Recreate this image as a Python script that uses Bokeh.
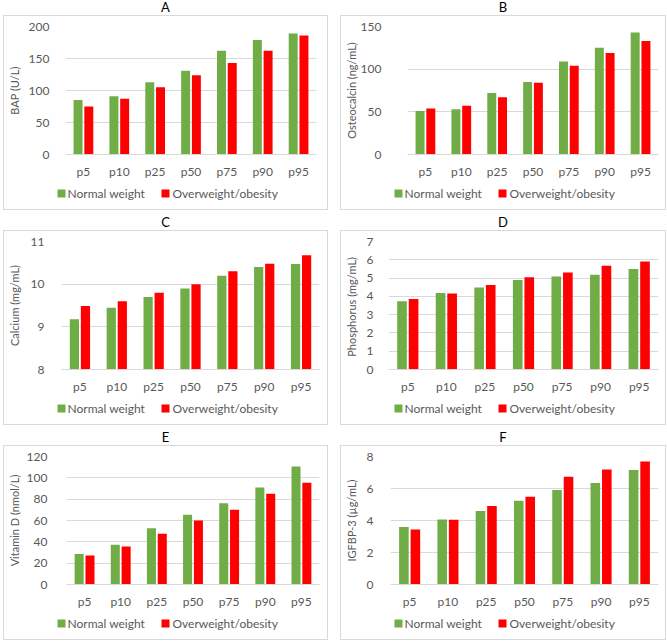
from bokeh.plotting import figure
from bokeh.layouts import column, row
from bokeh.models import (ColumnDataSource, FactorRange, Range1d, FixedTicker, Div)
from bokeh.core.properties import value
from bokeh.transform import dodge
from bokeh.embed import file_html
from bokeh.resources import INLINE

# Percentile categories shared by every panel
percentiles = ["p5", "p10", "p25", "p50", "p75", "p90", "p95"]
series_names = ["Normal weight", "Overweight/obesity"]

# A: bone alkaline phosphatase
bap_normal = [85, 91, 113, 131, 162, 179, 189]
bap_over = [75, 87, 105, 124, 143, 162, 186]
# B: osteocalcin
osteo_normal = [51, 53, 72, 85, 109, 125, 143]
osteo_over = [54, 57, 67, 84, 104, 119, 133]
# C: calcium
calcium_normal = [9.18, 9.45, 9.70, 9.90, 10.20, 10.40, 10.47]
calcium_over = [9.49, 9.60, 9.80, 10.00, 10.30, 10.48, 10.68]
# D: phosphorus
phos_normal = [3.73, 4.18, 4.49, 4.89, 5.09, 5.18, 5.49]
phos_over = [3.85, 4.15, 4.62, 5.04, 5.31, 5.67, 5.91]
# E: vitamin D
vitd_normal = [28.7, 37.2, 52.8, 65.3, 76.2, 91.0, 110.6]
vitd_over = [27.2, 35.6, 47.5, 60.0, 70.0, 85.0, 95.3]
# F: IGFBP-3
igfbp_normal = [3.60, 4.06, 4.60, 5.24, 5.90, 6.35, 7.16]
igfbp_over = [3.43, 4.05, 4.90, 5.49, 6.74, 7.18, 7.69]

# Axis titles and y ticks
y_labels = ["BAP (U/L)", "Osteocalcin (ng/mL)", "Calcium (mg/mL)",
            "Phosphorus  (mg/mL)", "Vitamin D (nmol/L)", "IGFBP-3 (\u00b5g/mL)"]
y_ticks_a = [0, 50, 100, 150, 200]
y_ticks_b = [0, 50, 100, 150]
y_ticks_c = [8, 9, 10, 11]
y_ticks_d = [0, 1, 2, 3, 4, 5, 6, 7]
y_ticks_e = [0, 20, 40, 60, 80, 100, 120]
y_ticks_f = [0, 2, 4, 6, 8]

GREEN = "#70AD47"
RED = "#FF0000"
GRID = "#D9D9D9"
TEXT = "#595959"
FONT = "Lato"

CHART_H = 165   # bars + axes
LEGEND_H = 28   # strip holding the legend under each chart

# legend layout inside the strip (pixels from the strip's left / bottom)
KEY_X = [57, 161]
LABEL_X = [63, 168]
KEY_Y = 16


def make_legend_strip(width):
    """A small axis-less figure carrying the two-entry key."""
    lp = figure(width=width, height=LEGEND_H, x_axis_type=None, y_axis_type=None,
                x_range=Range1d(0, width), y_range=Range1d(0, LEGEND_H),
                output_backend="svg", toolbar_location=None,
                min_border=0, outline_line_color=None, frame_align=False)
    keys = ColumnDataSource(dict(x=KEY_X, y=[KEY_Y, KEY_Y],
                                 color=[GREEN, RED]))
    lp.scatter(x="x", y="y", source=keys, marker="square", size=8,
               fill_color="color", line_color=None)
    labels = ColumnDataSource(dict(x=LABEL_X, y=[KEY_Y, KEY_Y],
                                   name=series_names))
    lp.text(x="x", y="y", text="name", source=labels,
            text_baseline="middle", text_align="left",
            text_font=value(FONT), text_font_size="12px", text_color=TEXT)
    return lp


def make_panel(letter, ylabel, normal, over, ticks, box_w,
               frame_left, frame_right, tick_standoff, label_standoff):
    y0, y1 = ticks[0], ticks[-1]
    src = ColumnDataSource(dict(cat=percentiles, normal=normal, over=over))
    p = figure(width=box_w - 2, height=CHART_H,
               x_range=FactorRange(*percentiles),
               y_range=Range1d(y0, y1),
               output_backend="svg", toolbar_location=None,
               min_border_left=frame_left, min_border_right=frame_right,
               min_border_top=10, min_border_bottom=27, frame_align=False)
    p.vbar(x=dodge("cat", -0.15, range=p.x_range), top="normal",
           bottom=y0, width=0.25, source=src,
           fill_color=GREEN, line_color=None)
    p.vbar(x=dodge("cat", 0.15, range=p.x_range), top="over",
           bottom=y0, width=0.25, source=src,
           fill_color=RED, line_color=None)

    p.outline_line_color = None
    p.xgrid.grid_line_color = None
    p.ygrid.grid_line_color = GRID
    p.ygrid.grid_line_width = 1

    yax = p.yaxis[0]
    yax.ticker = FixedTicker(ticks=ticks)
    yax.axis_line_color = None
    yax.major_tick_line_color = None
    yax.minor_tick_line_color = None
    yax.major_label_standoff = tick_standoff
    yax.major_label_text_font = FONT
    yax.major_label_text_font_size = "12px"
    yax.major_label_text_color = TEXT
    yax.axis_label = ylabel
    yax.axis_label_standoff = label_standoff
    yax.axis_label_text_font = FONT
    yax.axis_label_text_font_size = "11px"
    yax.axis_label_text_font_style = "normal"
    yax.axis_label_text_color = TEXT

    xax = p.xaxis[0]
    xax.axis_line_color = GRID
    xax.major_tick_line_color = None
    xax.minor_tick_line_color = None
    xax.major_label_standoff = 3
    xax.major_label_text_font = FONT
    xax.major_label_text_font_size = "12px"
    xax.major_label_text_color = TEXT

    boxed = column(p, make_legend_strip(box_w - 2), spacing=0, margin=0,
                   styles={"border": "1px solid #D9D9D9"})
    title = Div(text=letter, width=box_w, height=15, margin=0,
                styles={"text-align": "center", "font-family": FONT,
                        "font-size": "13px", "color": "#000000",
                        "line-height": "15px"})
    return column(title, boxed, spacing=0, margin=0)


pa = make_panel("A", y_labels[0], bap_normal, bap_over, y_ticks_a, 325, 56, 11, 10, 5)
pb = make_panel("B", y_labels[1], osteo_normal, osteo_over, y_ticks_b, 326, 60, 7, 20, 0)
pc = make_panel("C", y_labels[2], calcium_normal, calcium_over, y_ticks_c, 325, 51, 8, 11, 7)
pd = make_panel("D", y_labels[3], phos_normal, phos_over, y_ticks_d, 326, 45, 7, 9, 6)
pe = make_panel("E", y_labels[4], vitd_normal, vitd_over, y_ticks_e, 325, 58, 8, 13, 3)
pf = make_panel("F", y_labels[5], igfbp_normal, igfbp_over, y_ticks_f, 326, 48, 7, 11, 6)

page = column(
    row(pa, pb, spacing=12, margin=0),
    row(pc, pd, spacing=12, margin=0),
    row(pe, pf, spacing=12, margin=0),
    spacing=5, margin=(0, 0, 0, 3),
)

open("out.html", "w").write(file_html(page, INLINE))
